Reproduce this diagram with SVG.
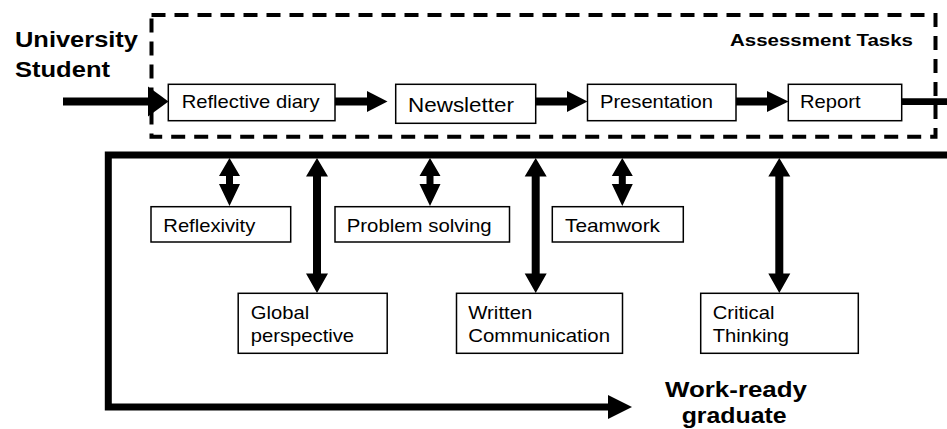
<svg xmlns="http://www.w3.org/2000/svg" width="947" height="429" viewBox="0 0 947 429">
<style>
.box{fill:#fff;stroke:#000;stroke-width:1.5}
.t{font-family:"Liberation Sans",Arial,sans-serif;font-size:19px;fill:#000}
.b{font-family:"Liberation Sans",Arial,sans-serif;font-weight:bold;fill:#000}
.shaft{fill:none;stroke:#000;stroke-width:8}
.head{fill:#000;stroke:none}
.dash{fill:none;stroke:#000;stroke-width:4;stroke-dasharray:14 9}
.frame{fill:none;stroke:#000;stroke-width:7;stroke-linejoin:miter}
</style>

<g id="labels">
<text class="b" x="15" y="47.3" font-size="22" textLength="123" lengthAdjust="spacingAndGlyphs">University</text>
<text class="b" x="15" y="77.3" font-size="22" textLength="95" lengthAdjust="spacingAndGlyphs">Student</text>
<text class="b" x="665" y="396.7" font-size="22" textLength="142" lengthAdjust="spacingAndGlyphs">Work-ready</text>
<text class="b" x="681.7" y="423.3" font-size="22" textLength="105" lengthAdjust="spacingAndGlyphs">graduate</text>
</g>

<g id="assessment-tasks">
<rect class="dash" x="151.5" y="15" width="784" height="121.7"/>
<text class="b" x="730" y="46" font-size="17" textLength="183" lengthAdjust="spacingAndGlyphs">Assessment Tasks</text>
</g>

<g id="connectors">
<!-- main row -->
<path class="shaft" d="M63 101.5 H150"/>
<polygon class="head" points="148,86.5 168.5,101.5 148,116.5"/>
<path class="shaft" d="M335 101.5 H369"/>
<polygon class="head" points="367,91 387.5,101.5 367,112"/>
<path class="shaft" d="M536 101.5 H569"/>
<polygon class="head" points="567,91 587.5,101.5 567,112"/>
<path class="shaft" d="M736 101.5 H769"/>
<polygon class="head" points="767,91 788.5,101.5 767,112"/>
<path class="shaft" d="M901.7 101.7 H947" style="stroke-width:6.7"/>
<!-- frame -->
<path class="frame" d="M947 155 H108.3 V407 H610"/>
<polygon class="head" points="608,395 632,407 608,419"/>
<!-- short double arrows -->
<polygon class="head" points="229.5,158 240,176 233,176 233,184 240,184 229.5,206 219,184 226,184 226,176 219,176"/>
<polygon class="head" points="430,158 440.5,176 433.5,176 433.5,184 440.5,184 430,206 419.5,184 426.5,184 426.5,176 419.5,176"/>
<polygon class="head" points="622.3,158 632.8,176 625.8,176 625.8,184 632.8,184 622.3,206 611.8,184 618.8,184 618.8,176 611.8,176"/>
<!-- long double arrows -->
<polygon class="head" points="317,158 328,176.5 321,176.5 321,273.5 328,273.5 317,293 306,273.5 313,273.5 313,176.5 306,176.5"/>
<polygon class="head" points="535.7,158 546.7,176.5 539.7,176.5 539.7,273.5 546.7,273.5 535.7,293 524.7,273.5 531.7,273.5 531.7,176.5 524.7,176.5"/>
<polygon class="head" points="779.3,158 790.3,176.5 783.3,176.5 783.3,273.5 790.3,273.5 779.3,293 768.3,273.5 775.3,273.5 775.3,176.5 768.3,176.5"/>
</g>

<g id="reflective-diary">
<rect class="box" x="168.3" y="84.3" width="166.7" height="36.4"/>
<text class="t" x="181.7" y="108.3" textLength="138" lengthAdjust="spacingAndGlyphs">Reflective diary</text>
</g>
<g id="newsletter">
<rect class="box" x="395.7" y="84.3" width="140" height="39"/>
<text class="t" x="408" y="111.7" style="font-size:21px" textLength="106" lengthAdjust="spacingAndGlyphs">Newsletter</text>
</g>
<g id="presentation">
<rect class="box" x="587.5" y="84.3" width="148.5" height="36.4"/>
<text class="t" x="600" y="108.3" textLength="113" lengthAdjust="spacingAndGlyphs">Presentation</text>
</g>
<g id="report">
<rect class="box" x="788.3" y="84.3" width="113.4" height="36.4"/>
<text class="t" x="800" y="108.3" textLength="60.5" lengthAdjust="spacingAndGlyphs">Report</text>
</g>

<g id="reflexivity">
<rect class="box" x="151" y="206.7" width="139.7" height="35.3"/>
<text class="t" x="163.3" y="231.7" textLength="92" lengthAdjust="spacingAndGlyphs">Reflexivity</text>
</g>
<g id="problem-solving">
<rect class="box" x="335" y="206.7" width="174.5" height="35.3"/>
<text class="t" x="346.7" y="231.7" textLength="145" lengthAdjust="spacingAndGlyphs">Problem solving</text>
</g>
<g id="teamwork">
<rect class="box" x="552.3" y="206.7" width="131" height="35.3"/>
<text class="t" x="565" y="231.7" textLength="95" lengthAdjust="spacingAndGlyphs">Teamwork</text>
</g>

<g id="global-perspective">
<rect class="box" x="238.2" y="293.3" width="149" height="60"/>
<text class="t" x="250.8" y="319" textLength="58.4" lengthAdjust="spacingAndGlyphs">Global</text>
<text class="t" x="250.8" y="341.7" textLength="103.3" lengthAdjust="spacingAndGlyphs">perspective</text>
</g>
<g id="written-communication">
<rect class="box" x="456.5" y="293.3" width="166" height="60"/>
<text class="t" x="468.3" y="319" textLength="64" lengthAdjust="spacingAndGlyphs">Written</text>
<text class="t" x="468.3" y="341.7" textLength="141.7" lengthAdjust="spacingAndGlyphs">Communication</text>
</g>
<g id="critical-thinking">
<rect class="box" x="700.7" y="293.3" width="157.6" height="60"/>
<text class="t" x="712.7" y="319.3" textLength="61.7" lengthAdjust="spacingAndGlyphs">Critical</text>
<text class="t" x="712.7" y="341.7" textLength="76.3" lengthAdjust="spacingAndGlyphs">Thinking</text>
</g>
</svg>
